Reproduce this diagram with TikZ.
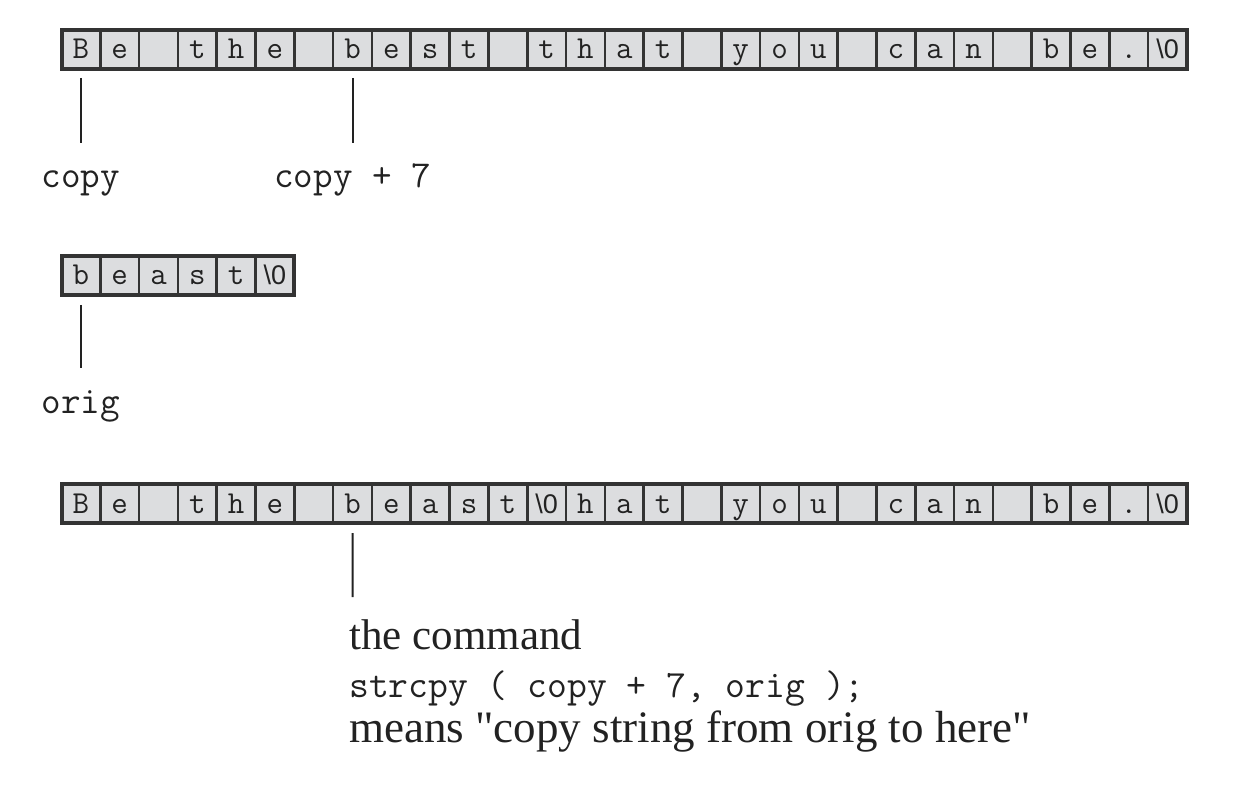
\documentclass[tikz,border=0pt]{standalone}
\usepackage{fontspec}
\newfontfamily\serifT{Liberation Serif}
\newfontfamily\zsans{Liberation Sans}
\usetikzlibrary{calc}
\definecolor{cellfill}{HTML}{DCDDDF}
\definecolor{cellline}{HTML}{333333}
\definecolor{ink}{HTML}{222222}
\newcommand{\nul}{{\zsans\fontsize{27}{27}\selectfont\textbackslash 0}}
\begin{document}
\begin{tikzpicture}[x=1pt,y=-1pt,
 cell/.style={draw=cellline, fill=cellfill, line width=2.6pt, minimum width=38.81pt, minimum height=39pt, inner sep=0pt, outer sep=0pt, text height=19pt, text depth=0pt, font=\fontsize{32}{32}\selectfont\ttfamily, text=ink},
 ptr/.style={draw=ink, line width=2pt},
 lbl/.style={anchor=base, inner sep=0pt, font=\fontsize{38}{38}\selectfont\ttfamily, text=ink},
 note/.style={anchor=base west, inner sep=0pt, text=ink},
 frame/.style={draw=cellline, line width=4pt}
]
\useasboundingbox (0,0) rectangle (1257,799);
% top row
\foreach [count=\i from 0] \c in {B,e,{},t,h,e,{},b,e,s,t,{},t,h,a,t,{},y,o,u,{},c,a,n,{},b,e,.,\nul}
  \node[cell] (t\i) at ({61.5+38.81*(\i+0.5)},49.5) {\c};
\draw[frame] (t0.north west) rectangle (t28.south east);
% beast row
\foreach [count=\i from 0] \c in {b,e,a,s,t,\nul}
  \node[cell] (m\i) at ({61.5+38.81*(\i+0.5)},275.5) {\c};
\draw[frame] (m0.north west) rectangle (m5.south east);
% bottom row
\foreach [count=\i from 0] \c in {B,e,{},t,h,e,{},b,e,a,s,t,\nul,h,a,t,{},y,o,u,{},c,a,n,{},b,e,.,\nul}
  \node[cell] (b\i) at ({61.5+38.81*(\i+0.5)},503.5) {\c};
\draw[frame] (b0.north west) rectangle (b28.south east);
% labels
\node[lbl] (lcopy) at (t0.center |- 0,188) {copy};
\node[lbl] (lcopy7) at (t7.center |- 0,188) {copy + 7};
\node[lbl] (lorig) at (m0.center |- 0,413) {orig};
\draw[ptr] ($(t0.south)+(0,9)$) -- ($(lcopy.base)+(0,-45)$);
\draw[ptr] ($(t7.south)+(0,9)$) -- ($(lcopy7.base)+(0,-45)$);
\draw[ptr] ($(m0.south)+(0,10)$) -- ($(lorig.base)+(0,-45)$);
% explanation
\node[note, font=\fontsize{43}{43}\selectfont\serifT] (n1) at (349,649) {the command};
\node[note, font=\fontsize{38.5}{38.5}\selectfont\ttfamily] (n2) at (349,697) {strcpy ( copy + 7, orig );};
\node[note, font=\fontsize{45}{45}\selectfont\serifT] (n3) at (349,742) {means "copy string from orig to here"};
\draw[ptr] ($(b7.south)+(0,10)$) -- ($(n1.base west)+(3.6,-52)$);
\end{tikzpicture}
\end{document}
